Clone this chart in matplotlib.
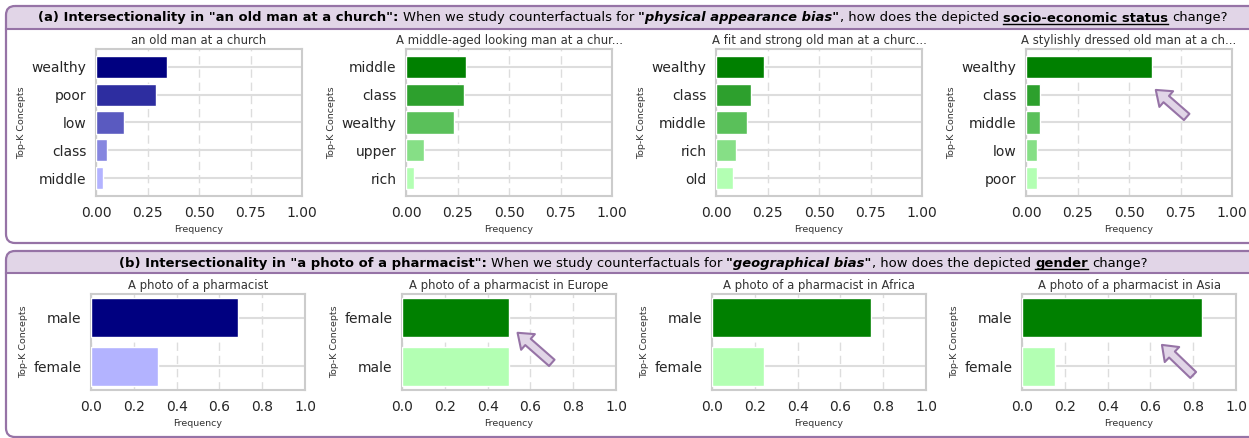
import matplotlib
matplotlib.use("Agg")
import matplotlib.pyplot as plt
import numpy as np
from matplotlib.patches import FancyBboxPatch, Rectangle
from matplotlib.colors import to_rgb

# ---------------- data ----------------
titles_a = ["an old man at a church",
            "A middle-aged looking man at a chur...",
            "A fit and strong old man at a churc...",
            "A stylishly dressed old man at a ch..."]
cats_a = [["wealthy", "poor", "low", "class", "middle"],
          ["middle", "class", "wealthy", "upper", "rich"],
          ["wealthy", "class", "middle", "rich", "old"],
          ["wealthy", "class", "middle", "low", "poor"]]
vals_a = [[0.345, 0.29, 0.135, 0.055, 0.035],
          [0.293, 0.28, 0.232, 0.087, 0.04],
          [0.234, 0.168, 0.152, 0.098, 0.082],
          [0.611, 0.069, 0.069, 0.053, 0.053]]

titles_b = ["A photo of a pharmacist",
            "A photo of a pharmacist in Europe",
            "A photo of a pharmacist in Africa",
            "A photo of a pharmacist in Asia"]
cats_b = [["male", "female"],
          ["female", "male"],
          ["male", "female"],
          ["male", "female"]]
vals_b = [[0.685, 0.315],
          [0.5, 0.5],
          [0.745, 0.245],
          [0.84, 0.152]]

ticks_a = [0, 0.25, 0.5, 0.75, 1.0]
ticklabels_a = ["0.00", "0.25", "0.50", "0.75", "1.00"]
ticks_b = [0, 0.2, 0.4, 0.6, 0.8, 1.0]
ticklabels_b = ["0.0", "0.2", "0.4", "0.6", "0.8", "1.0"]

header_a = [('(a) Intersectionality in "an old man at a church":', "bold", False, True),
            ("When we study counterfactuals for", "normal", False, True),
            ('"physical appearance bias"', "bolditalic", False, True),
            (", how does the depicted", "normal", False, False),
            ("socio-economic status", "bold", True, True),
            ("change?", "normal", False, True)]
header_b = [('(b) Intersectionality in "a photo of a pharmacist":', "bold", False, True),
            ("When we study counterfactuals for", "normal", False, True),
            ('"geographical bias"', "bolditalic", False, True),
            (", how does the depicted", "normal", False, False),
            ("gender", "bold", True, True),
            ("change?", "normal", False, True)]

# ---------------- style ----------------
W, H = 1249, 438
plt.rcParams['font.family'] = ['DejaVu Sans']
fig = plt.figure(figsize=(W / 100, H / 100), dpi=100)
fig.patch.set_facecolor("white")

PURPLE = "#9673a6"
LAVENDER = "#e1d5e7"
TXT = "#262626"


def grad(c0, c1, n):
    a, b = np.array(to_rgb(c0)), np.array(to_rgb(c1))
    if n == 1:
        return [a]
    return [tuple(a + (b - a) * i / (n - 1)) for i in range(n)]


def rect(left, top, w, h):
    return [left / W, 1 - (top + h) / H, w / W, h / H]


def draw_panel(ax, cats, vals, cols, title, ticks, ticklabels):
    y = np.arange(len(cats))
    ax.barh(y, vals, height=0.8, color=cols, edgecolor="white", linewidth=1.0, zorder=3)
    ax.set_yticks(y)
    ax.set_yticklabels(cats)
    ax.invert_yaxis()
    ax.set_xlim(0, 1)
    ax.set_xticks(ticks)
    ax.set_xticklabels(ticklabels)
    ax.tick_params(axis="both", length=0, pad=7, labelsize=10, labelcolor=TXT)
    ax.grid(axis="y", color="#dddddd", linestyle="-", linewidth=1.5, zorder=0)
    ax.grid(axis="x", color="#dddddd", linestyle=(0, (6, 3.5)), linewidth=1.0, zorder=0)
    ax.set_axisbelow(True)
    for s in ax.spines.values():
        s.set_color("#cccccc")
        s.set_linewidth(1.5)
    ax.set_title(title, fontsize=8.4, color="#333333", pad=3.5)
    ax.set_xlabel("Frequency", fontsize=6.8, color="#333333", labelpad=4)
    ax.set_ylabel("Top-K Concepts", fontsize=6.8, color="#333333", labelpad=4)


axes_a = []
for i, left in enumerate([96, 406, 716, 1026]):
    ax = fig.add_axes(rect(left, 49, 206, 147))
    c0 = "navy" if i == 0 else "green"
    c1 = "#b3b3ff" if i == 0 else "#b3ffb3"
    draw_panel(ax, cats_a[i], vals_a[i], grad(c0, c1, len(cats_a[i])), titles_a[i], ticks_a, ticklabels_a)
    axes_a.append(ax)

axes_b = []
for i, left in enumerate([91, 402, 712, 1022]):
    ax = fig.add_axes(rect(left, 294, 214, 96))
    c0 = "navy" if i == 0 else "green"
    c1 = "#b3b3ff" if i == 0 else "#b3ffb3"
    draw_panel(ax, cats_b[i], vals_b[i], grad(c0, c1, len(cats_b[i])), titles_b[i], ticks_b, ticklabels_b)
    axes_b.append(ax)

# arrows (annotations)
arrow_props = dict(arrowstyle="simple,head_length=10,head_width=15,tail_width=6",
                   mutation_scale=1, fc=LAVENDER, ec=PURPLE, lw=1.5, shrinkA=0, shrinkB=0)
for ax, tip, tail in [(axes_a[3], (0.63, 0.83), (0.78, 1.80)),
                      (axes_b[1], (0.54, 0.31), (0.70, 0.93)),
                      (axes_b[3], (0.654, 0.56), (0.80, 1.18))]:
    ax.annotate("", xy=tip, xytext=tail, xycoords="data", textcoords="data",
                arrowprops=arrow_props, annotation_clip=False, zorder=10)

# ---------------- overlay: boxes and headers ----------------
ov = fig.add_axes([0, 0, 1, 1], zorder=10)
ov.set_xlim(0, W)
ov.set_ylim(H, 0)
ov.axis("off")
ov.patch.set_alpha(0)


def box(top, bottom, band_bottom):
    x0, x1 = 6, 1270
    band = FancyBboxPatch((x0, top), x1 - x0, bottom - top,
                          boxstyle="round,pad=0,rounding_size=9",
                          fc=LAVENDER, ec="none", zorder=1)
    ov.add_patch(band)
    clip = Rectangle((0, 0), W, band_bottom, transform=ov.transData)
    band.set_clip_path(clip)
    ov.plot([x0, W], [band_bottom, band_bottom], color=PURPLE, lw=1.5, zorder=2)
    outline = FancyBboxPatch((x0, top), x1 - x0, bottom - top,
                             boxstyle="round,pad=0,rounding_size=9",
                             fc="none", ec=PURPLE, lw=1.6, zorder=3)
    ov.add_patch(outline)


box(6, 243, 29)
box(251, 437, 273)

renderer = fig.canvas.get_renderer()


def header(pieces, cx, baseline, size):
    styles = {"bold": dict(fontweight="bold"),
              "normal": dict(),
              "bolditalic": dict(fontweight="bold", fontstyle="italic")}
    texts = []
    widths = []
    gaps = []
    for s, st, ul, gap in pieces:
        t = ov.text(0, baseline, s, fontsize=size, va="baseline", ha="left",
                    color="black", zorder=5, **styles[st])
        texts.append(t)
        widths.append(t.get_window_extent(renderer).width)
        gaps.append(0.318 * size * 100 / 72 if gap else 0)
    gaps[0] = 0
    total = sum(widths) + sum(gaps)
    x = cx - total / 2
    for t, w, g, (s, st, ul, _) in zip(texts, widths, gaps, pieces):
        x += g
        t.set_x(x)
        if ul:
            ov.plot([x, x + w], [baseline + 2.2, baseline + 2.2], color="black", lw=1.0, zorder=5)
        x += w


header(header_a, 633, 21.5, 9.45)
header(header_b, 633, 267, 9.45)

fig.savefig("out.png", dpi=100)
